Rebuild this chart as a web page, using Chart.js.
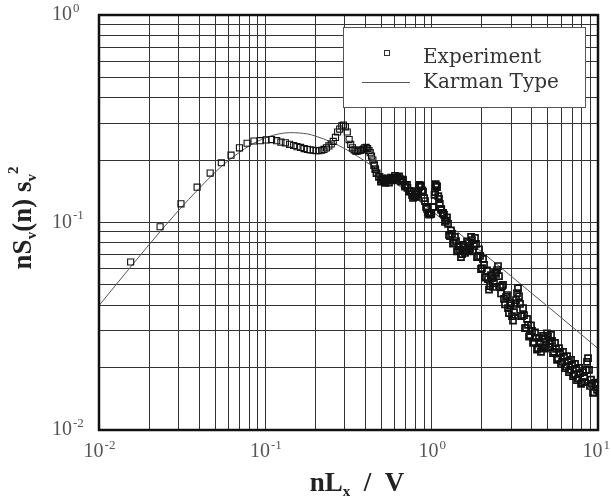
<!DOCTYPE html>
<html>
<head>
<meta charset="UTF-8">
<title>nSv(n)/sv2 spectrum</title>
<script src="https://cdn.jsdelivr.net/npm/chart.js"></script>
<style>
  body { margin: 0; background: #fff; }
</style>
</head>
<body>
<canvas id="chart" width="611" height="499"></canvas>
<script>
  // experiment (squares)
  const expX = [
    0.0155, 0.0233, 0.0311, 0.0389, 0.0466, 0.0544, 0.0622, 0.0699, 0.0777, 0.0855,
    0.0932, 0.101, 0.109, 0.117, 0.124, 0.132, 0.140, 0.148, 0.155, 0.163,
    0.171, 0.179, 0.186, 0.194, 0.202, 0.210, 0.218, 0.225, 0.233, 0.241,
    0.249, 0.256, 0.264, 0.272, 0.280, 0.288, 0.295, 0.303, 0.311, 0.319,
    0.326, 0.334, 0.342, 0.350, 0.357, 0.365, 0.373, 0.381, 0.389, 0.396,
    0.404, 0.412, 0.420, 0.427, 0.435, 0.443, 0.451, 0.458, 0.466, 0.482,
    0.497, 0.513, 0.528, 0.544, 0.559, 0.575, 0.591, 0.606, 0.622, 0.645,
    0.668, 0.692, 0.715, 0.738, 0.762, 0.785, 0.808, 0.831, 0.847, 0.863,
    0.878, 0.901, 0.925, 0.948, 0.971, 0.995, 1.018, 1.041, 1.057, 1.072,
    1.096, 1.119, 1.142, 1.166,
    1.186, 1.219, 1.254, 1.289, 1.325, 1.362, 1.401, 1.440, 1.480, 1.522,
    1.565, 1.609, 1.654, 1.701, 1.748, 1.797, 1.848, 1.900, 1.953, 2.008,
    2.064, 2.122, 2.182, 2.243, 2.306, 2.371, 2.438, 2.505, 2.576, 2.648,
    2.722, 2.799, 2.877, 2.958, 3.041, 3.127, 3.214, 3.304, 3.397, 3.493,
    3.591, 3.692, 3.795, 3.902, 4.011, 4.124, 4.240, 4.359, 4.481, 4.607,
    4.736, 4.870, 5.006, 5.147, 5.291, 5.440, 5.593, 5.750, 5.911, 6.077,
    6.248, 6.424, 6.604, 6.790, 6.980, 7.176, 7.378, 7.585, 7.798, 8.016,
    8.241, 8.473, 8.710, 8.954, 9.204, 9.462, 9.730, 9.900,
    // the dense part again, other side of the scatter band
    0.4960, 0.5099, 0.5242, 0.5389, 0.5540, 0.5696, 0.5856, 0.6020, 0.6189, 0.6363,
    0.6542, 0.6726, 0.6915, 0.7109, 0.7308, 0.7513, 0.7724, 0.7941, 0.8164, 0.8393,
    0.8629, 0.8871, 0.9120, 0.9376, 0.9639, 0.9910, 1.0188, 1.0474, 1.0768, 1.1070,
    1.1381, 1.1700,
    1.2025, 1.236, 1.2715, 1.307, 1.3435, 1.381, 1.4205, 1.460, 1.5006, 1.543,
    1.587, 1.631, 1.677, 1.725, 1.772, 1.822, 1.874, 1.926, 1.980, 2.036,
    2.093, 2.152, 2.212, 2.274, 2.338, 2.404, 2.472, 2.540, 2.612, 2.685,
    2.760, 2.838, 2.917, 2.999, 3.083, 3.171, 3.259, 3.350, 3.444, 3.542,
    3.641, 3.743, 3.848, 3.956, 4.067, 4.181, 4.299, 4.420, 4.543, 4.671,
    4.802, 4.938, 5.076, 5.219, 5.365, 5.516, 5.671, 5.830, 5.993, 6.162,
    6.335, 6.514, 6.696, 6.885, 7.077, 7.276, 7.481, 7.691, 7.907, 8.128,
    8.356, 8.591, 8.831, 9.079, 9.332, 9.594, 9.866
  ];
  const expY = [
    0.0645, 0.0954, 0.123, 0.148, 0.173, 0.194, 0.211, 0.229, 0.241, 0.247,
    0.248, 0.250, 0.251, 0.248, 0.244, 0.242, 0.238, 0.235, 0.232, 0.230,
    0.227, 0.225, 0.224, 0.223, 0.222, 0.222, 0.223, 0.225, 0.229, 0.234,
    0.239, 0.246, 0.257, 0.273, 0.282, 0.292, 0.295, 0.289, 0.273, 0.251,
    0.238, 0.229, 0.224, 0.221, 0.221, 0.222, 0.223, 0.224, 0.226, 0.229,
    0.230, 0.227, 0.222, 0.217, 0.209, 0.200, 0.189, 0.181, 0.173, 0.166,
    0.161, 0.159, 0.159, 0.159, 0.160, 0.162, 0.164, 0.164, 0.164, 0.162,
    0.159, 0.152, 0.147, 0.142, 0.136, 0.133, 0.133, 0.142, 0.152, 0.150,
    0.143, 0.131, 0.119, 0.112, 0.109, 0.111, 0.119, 0.136, 0.153, 0.150,
    0.134, 0.123, 0.115, 0.111,
    0.109, 0.102, 0.0985, 0.0861, 0.0881, 0.0796, 0.0814, 0.0729, 0.0737, 0.0705,
    0.0770, 0.0737, 0.0796, 0.0753, 0.0823, 0.0770, 0.0788, 0.0682, 0.0690, 0.0603,
    0.0624, 0.0546, 0.0534, 0.0494, 0.0540, 0.0511, 0.0565, 0.0617, 0.0489, 0.0494,
    0.0428, 0.0438, 0.0387, 0.0400, 0.0354, 0.0370, 0.0423, 0.0483, 0.0405, 0.0354,
    0.0358, 0.0310, 0.0321, 0.0287, 0.0300, 0.0265, 0.0278, 0.0248, 0.0265, 0.0251,
    0.0275, 0.0257, 0.0281, 0.0260, 0.0269, 0.0238, 0.0246, 0.0222, 0.0235, 0.0213,
    0.0225, 0.0203, 0.0215, 0.0195, 0.0206, 0.0186, 0.0197, 0.0178, 0.0188, 0.0170,
    0.0180, 0.0195, 0.0222, 0.0163, 0.0167, 0.0152, 0.0165, 0.0168,
    0.1576, 0.1632, 0.1552, 0.1621, 0.1557, 0.1646, 0.1594, 0.1679, 0.1608, 0.1670,
    0.1573, 0.1608, 0.1491, 0.1516, 0.1407, 0.1414, 0.1313, 0.1357, 0.1372, 0.1483,
    0.1499, 0.1403, 0.1269, 0.1162, 0.1099, 0.1099, 0.1188, 0.1403, 0.1483, 0.1298,
    0.1162, 0.1111,
    0.1006, 0.1057, 0.0871, 0.0915, 0.0792, 0.0852, 0.0725, 0.0770, 0.0682, 0.0779,
    0.0713, 0.0810, 0.0725, 0.0852, 0.0737, 0.0842, 0.0682, 0.0741, 0.0597, 0.0667,
    0.0543, 0.0587, 0.0475, 0.0558, 0.0489, 0.0574, 0.0590, 0.0552, 0.0455, 0.0500,
    0.0403, 0.0447, 0.0366, 0.0409, 0.0337, 0.0405, 0.0457, 0.0442, 0.0354, 0.0387,
    0.0310, 0.0343, 0.0282, 0.0319, 0.0263, 0.0295, 0.0244, 0.0278, 0.0238, 0.0284,
    0.0247, 0.0292, 0.0251, 0.0287, 0.0235, 0.0263, 0.0218, 0.0248, 0.0208, 0.0238,
    0.0199, 0.0227, 0.0190, 0.0218, 0.0182, 0.0208, 0.0174, 0.0199, 0.0167, 0.0190,
    0.0170, 0.0213, 0.0195, 0.0175, 0.0151, 0.0169, 0.0156
  ];

  // Karman type curve
  const karmanX = [0.01, 0.015, 0.02, 0.03, 0.04, 0.05, 0.06, 0.07, 0.08, 0.1, 0.12, 0.14, 0.16, 0.18,
                   0.2, 0.25, 0.3, 0.4, 0.5, 0.7, 1, 1.5, 2, 3, 5, 7, 10];
  const karmanY = [0.0398, 0.0592, 0.0782, 0.114, 0.146, 0.175, 0.199, 0.218, 0.234, 0.256, 0.267, 0.271, 0.270, 0.267,
                   0.261, 0.244, 0.227, 0.197, 0.174, 0.142, 0.114, 0.0872, 0.0722, 0.0552, 0.0393, 0.0314, 0.0247];

  // axes
  const xDecades = [0.01, 0.1, 1, 10];
  const xExps = ['-2', '-1', '0', '1'];
  const yDecades = [0.01, 0.1, 1];
  const yExps = ['-2', '-1', '0'];
  const gridSteps = [1, 2, 3, 4, 5, 6, 7, 8, 9];

  function gridValues(decades) {
    const out = [];
    for (let i = 0; i < decades.length - 1; i++) {
      gridSteps.forEach(s => out.push(+(decades[i] * s).toPrecision(3)));
    }
    out.push(decades[decades.length - 1]);
    return out;
  }

  const serif = '"Liberation Serif", "Times New Roman", serif';

  // draw a run of text pieces (normal / sub / sup) centred on 0
  function drawPieces(ctx, pieces) {
    let w = 0;
    pieces.forEach(p => { ctx.font = p.f; p.w = ctx.measureText(p.t).width; w += p.w; });
    let x = -w / 2;
    pieces.forEach(p => { ctx.font = p.f; ctx.fillText(p.t, x, p.dy); x += p.w; });
  }

  function drawPow(ctx, x, y, exp, align) {
    ctx.font = '20px ' + serif;
    const w10 = ctx.measureText('10').width;
    ctx.font = '13px ' + serif;
    const we = ctx.measureText(exp).width;
    let left = align === 'center' ? x - (w10 + we) / 2 : x - w10;
    if (left + w10 + we + 1 > 610) left = 610 - w10 - we - 1;
    ctx.textBaseline = 'middle';
    ctx.textAlign = 'left';
    ctx.font = '20px ' + serif;
    ctx.fillText('10', left, y);
    ctx.font = '13px ' + serif;
    ctx.fillText(exp, left + w10 + 1, y - 6.5);
  }

  const decor = {
    id: 'decor',
    afterDraw(chart) {
      const { ctx, chartArea: a, scales: { x, y } } = chart;
      ctx.save();

      // frame
      ctx.strokeStyle = '#111';
      ctx.lineWidth = 2.5;
      ctx.strokeRect(a.left, a.top, a.right - a.left, a.bottom - a.top);

      // tick labels
      ctx.fillStyle = '#555';
      xDecades.forEach((v, i) => drawPow(ctx, x.getPixelForValue(v), 452, xExps[i], 'center'));
      yDecades.forEach((v, i) => drawPow(ctx, 72, y.getPixelForValue(v), yExps[i], 'right'));

      // axis titles
      ctx.fillStyle = '#222';
      ctx.textAlign = 'left';
      ctx.textBaseline = 'alphabetic';
      ctx.save();
      ctx.translate(357, 491);
      drawPieces(ctx, [
        { t: 'nL', f: 'bold 27px ' + serif, dy: 0 },
        { t: 'x', f: 'bold 15px ' + serif, dy: 5 },
        { t: '  /  V', f: 'bold 27px ' + serif, dy: 0 }
      ]);
      ctx.restore();

      ctx.save();
      ctx.translate(31, 218);
      ctx.rotate(-Math.PI / 2);
      drawPieces(ctx, [
        { t: 'nS', f: 'bold 27px ' + serif, dy: 0 },
        { t: 'v', f: 'bold 15px ' + serif, dy: 5 },
        { t: '(n) s', f: 'bold 27px ' + serif, dy: 0 },
        { t: 'v', f: 'bold 15px ' + serif, dy: 5 },
        { t: '2', f: 'bold 15px ' + serif, dy: -13 }
      ]);
      ctx.restore();

      // legend box
      ctx.fillStyle = '#fff';
      ctx.fillRect(343, 27, 242, 80);
      ctx.strokeStyle = '#555';
      ctx.lineWidth = 1;
      ctx.strokeRect(343.5, 27.5, 242, 80);
      ctx.strokeStyle = '#333';
      ctx.strokeRect(384.5, 50.5, 5, 5);
      ctx.strokeStyle = '#555';
      ctx.beginPath();
      ctx.moveTo(362, 82.5);
      ctx.lineTo(410, 82.5);
      ctx.stroke();
      ctx.fillStyle = '#333';
      ctx.font = '20px "DejaVu Serif", serif';
      ctx.fillText('Experiment', 423, 63);
      ctx.fillText('Karman Type', 423, 88);

      ctx.restore();
    }
  };

  const xGrid = gridValues(xDecades);
  const yGrid = gridValues(yDecades);

  new Chart(document.getElementById('chart'), {
    type: 'scatter',
    data: {
      datasets: [
        {
          label: 'Experiment',
          data: expX.map((v, i) => ({ x: v, y: expY[i] })),
          pointStyle: 'rect',
          pointRadius: 4.3,
          // heavier where the squares pile up
          borderWidth: c => (c.raw && c.raw.x > 0.45 ? 1.7 : 1.1),
          borderColor: '#111',
          backgroundColor: 'rgba(255,255,255,0)',
          showLine: false
        },
        {
          label: 'Karman Type',
          data: karmanX.map((v, i) => ({ x: v, y: karmanY[i] })),
          showLine: true,
          pointRadius: 0,
          borderWidth: 1,
          borderColor: '#555',
          cubicInterpolationMode: 'monotone'
        }
      ]
    },
    options: {
      responsive: false,
      animation: false,
      layout: { padding: { top: 15, right: 13, left: 0, bottom: 0 } },
      plugins: { legend: { display: false }, tooltip: { enabled: false } },
      scales: {
        x: {
          type: 'logarithmic', min: 0.01, max: 10,
          afterBuildTicks: s => { s.ticks = xGrid.map(v => ({ value: v })); },
          afterFit: s => { s.height = 69; },
          ticks: { display: false },
          grid: { color: '#333', lineWidth: 1, drawTicks: false },
          border: { display: false }
        },
        y: {
          type: 'logarithmic', min: 0.01, max: 1,
          afterBuildTicks: s => { s.ticks = yGrid.map(v => ({ value: v })); },
          afterFit: s => { s.width = 99; },
          ticks: { display: false },
          grid: { color: '#333', lineWidth: 1, drawTicks: false },
          border: { display: false }
        }
      }
    },
    plugins: [decor]
  });
</script>
</body>
</html>
